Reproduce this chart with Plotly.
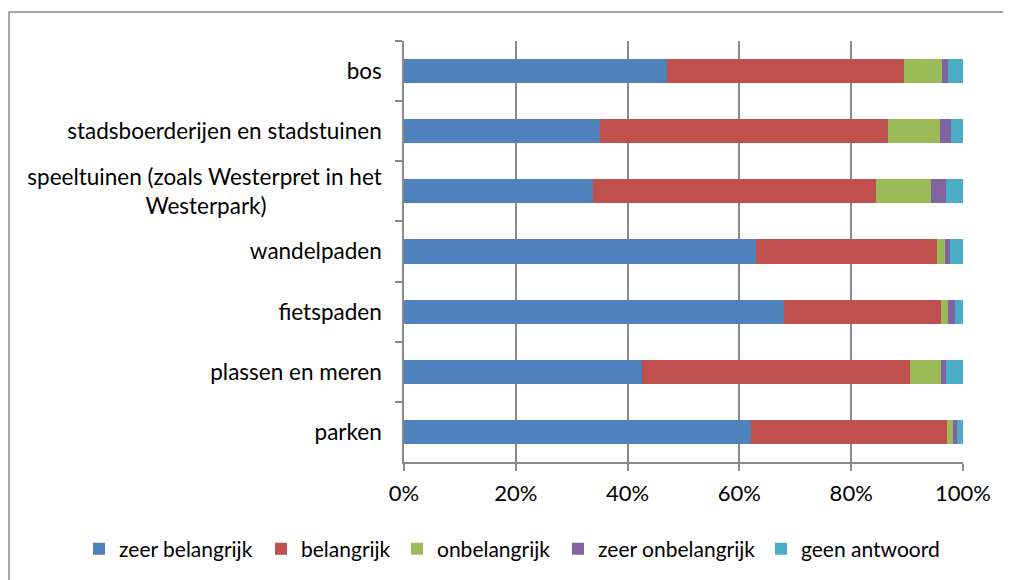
import plotly.graph_objects as go

categories = [
    "bos",
    "stadsboerderijen en stadstuinen",
    "speeltuinen (zoals Westerpret in het<br>Westerpark)" + "\u00a0" * 20,
    "wandelpaden",
    "fietspaden",
    "plassen en meren",
    "parken",
]
series_names = ["zeer belangrijk", "belangrijk", "onbelangrijk", "zeer onbelangrijk", "geen antwoord"]
zeer_belangrijk = [47.0, 35.1, 33.8, 63.0, 68.0, 42.6, 62.0]
belangrijk = [42.4, 51.5, 50.6, 32.4, 28.1, 47.9, 35.1]
onbelangrijk = [6.8, 9.3, 9.9, 1.3, 1.3, 5.6, 1.1]
zeer_onbelangrijk = [1.2, 2.0, 2.7, 1.0, 1.2, 0.9, 0.8]
geen_antwoord = [2.6, 2.1, 3.0, 2.3, 1.4, 3.0, 1.0]
tick_vals = [0, 20, 40, 60, 80, 100]
tick_text = ["0%", "20%", "40%", "60%", "80%", "100%"]

colors = ["#4F81BD", "#C0504D", "#9BBB59", "#8064A2", "#4BACC6"]
series_values = [zeer_belangrijk, belangrijk, onbelangrijk, zeer_onbelangrijk, geen_antwoord]
legend_left_px = [79, 261, 397, 558, 761]  # legend entry positions (page px)

FONT = "Lato, Calibri, Carlito, sans-serif"

OFF = 8  # page body margin
W, H = 1011 - OFF, 580 - OFF
L, R, T, B = 404 - OFF, 1011 - 963, 41 - OFF, 580 - 462
pw, ph = W - L - R, H - T - B

fig = go.Figure()
legend_layouts = {}
for i, (name, vals, col) in enumerate(zip(series_names, series_values, colors)):
    lname = "legend" if i == 0 else f"legend{i + 1}"
    fig.add_trace(go.Bar(
        y=categories, x=vals, name=name, orientation="h",
        marker=dict(color=col, line=dict(width=0)),
        legend=lname,
    ))
    legend_layouts[lname] = dict(
        orientation="h",
        x=(legend_left_px[i] - OFF - L) / pw, xanchor="left",
        y=-(549 - OFF - (T + ph)) / ph, yanchor="middle",
        font=dict(size=21, family=FONT, color="#000000"),
        itemwidth=30, bgcolor="rgba(0,0,0,0)",
    )

fig.update_layout(
    width=W, height=H,
    barmode="stack", bargap=0.6,
    margin=dict(l=L, r=R, t=T, b=B, autoexpand=False),
    paper_bgcolor="white", plot_bgcolor="white",
    font=dict(family=FONT, size=21, color="#000000"),
    showlegend=True,
    xaxis=dict(
        range=[0, 100], tickvals=tick_vals, ticktext=tick_text,
        showgrid=True, gridcolor="#8A8A8A", gridwidth=1.5,
        showline=True, linecolor="#8A8A8A", linewidth=1.5,
        ticks="outside", ticklen=7, tickcolor="#8A8A8A", tickwidth=1.5,
        tickfont=dict(size=22, family=FONT), zeroline=False,
        ticklabelstandoff=4, fixedrange=True,
    ),
    yaxis=dict(
        autorange="reversed", type="category",
        showline=True, linecolor="#8A8A8A", linewidth=1.5,
        ticks="outside", ticklen=7, tickcolor="#8A8A8A", tickwidth=1.5,
        tickson="boundaries", showgrid=False,
        tickfont=dict(size=22.5, family=FONT), ticklabelstandoff=16,
    ),
    **legend_layouts,
)

# outer chart border (top and left visible)
fig.add_shape(
    type="rect", xref="paper", yref="paper",
    x0=(9 - OFF - L) / pw, x1=(1030 - L) / pw,
    y0=-(600 - (T + ph)) / ph, y1=((T + ph) - (12 - OFF)) / ph,
    line=dict(color="#8A8A8A", width=1.5), fillcolor="rgba(0,0,0,0)",
    layer="below",
)

fig.write_html("out.html")
